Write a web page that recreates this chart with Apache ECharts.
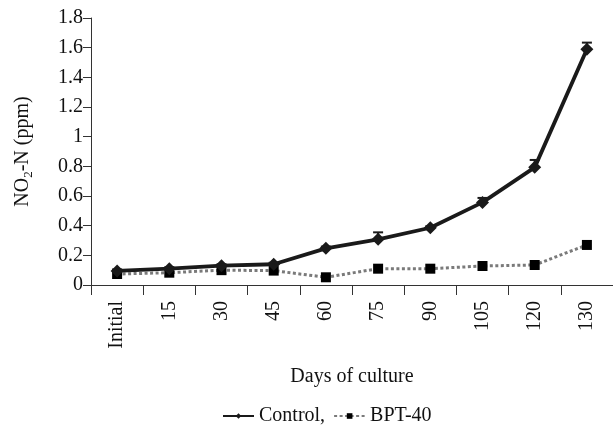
<!DOCTYPE html>
<html>
<head>
<meta charset="utf-8">
<script src="https://cdn.jsdelivr.net/npm/echarts@6/dist/echarts.min.js"></script>
<style>
html,body{margin:0;padding:0;background:#fff;}
#chart{width:613px;height:429px;}
</style>
</head>
<body>
<div id="chart"></div>
<script>
var categories = ['Initial', '15', '30', '45', '60', '75', '90', '105', '120', '130'];
var controlValues = [0.095, 0.11, 0.13, 0.14, 0.247, 0.308, 0.386, 0.557, 0.793, 1.589];
var controlErrors = [0.01, 0.01, 0.01, 0.01, 0.012, 0.047, 0.01, 0.03, 0.05, 0.045];
var bptValues = [0.074, 0.083, 0.10, 0.097, 0.052, 0.11, 0.11, 0.128, 0.135, 0.27];
var yTicks = [0, 0.2, 0.4, 0.6, 0.8, 1, 1.2, 1.4, 1.6, 1.8];

var FONT = '"Liberation Serif", "Times New Roman", serif';
var FS = 20;
var chart = echarts.init(document.getElementById('chart'), null, {renderer: 'canvas'});

var errData = controlValues.map(function (v, i) { return [i, v, v + controlErrors[i]]; });

chart.setOption({
  animation: false,
  backgroundColor: '#fff',
  textStyle: {fontFamily: FONT, color: '#111'},
  grid: {left: 91, right: 0, top: 18, bottom: 144, containLabel: false},
  legend: {
    left: 217, top: 401,
    itemWidth: 31, itemHeight: 7, itemGap: 8,
    textStyle: {fontFamily: FONT, fontSize: FS, color: '#111'},
    formatter: function (n) { return n === 'Control' ? 'Control,' : n; },
    data: ['Control', 'BPT-40']
  },
  xAxis: {
    type: 'category',
    data: categories,
    boundaryGap: true,
    name: 'Days of culture',
    nameLocation: 'middle',
    nameGap: 82,
    nameTextStyle: {fontFamily: FONT, fontSize: FS, color: '#111'},
    axisLine: {lineStyle: {color: '#333', width: 1}},
    axisTick: {show: true, alignWithLabel: false, length: 10, lineStyle: {color: '#333'}},
    axisLabel: {rotate: 90, margin: 16, fontFamily: FONT, fontSize: FS, color: '#111'},
    splitLine: {show: false}
  },
  yAxis: {
    type: 'value',
    min: yTicks[0], max: yTicks[yTicks.length - 1], interval: 0.2,
    name: '{a|NO}{s|2}{a|-N (ppm)}',
    nameLocation: 'middle',
    nameGap: 56,
    nameRotate: 90,
    nameTextStyle: {
      fontFamily: FONT, fontSize: FS, color: '#111',
      rich: {
        a: {fontFamily: FONT, fontSize: FS, color: '#111', lineHeight: 24, verticalAlign: 'middle'},
        s: {fontFamily: FONT, fontSize: 13, color: '#111', lineHeight: 24, verticalAlign: 'bottom', padding: [9, 0, 0, 0]}
      }
    },
    axisLine: {show: true, lineStyle: {color: '#333', width: 1}},
    axisTick: {show: true, inside: false, length: 8, lineStyle: {color: '#333'}},
    axisLabel: {margin: 8, fontFamily: FONT, fontSize: FS, color: '#111'},
    splitLine: {show: false}
  },
  series: [
    {
      name: 'Control',
      type: 'line',
      data: controlValues,
      symbol: 'diamond',
      symbolSize: 13,
      z: 4,
      lineStyle: {color: '#1a1a1a', width: 3.8},
      itemStyle: {color: '#1a1a1a'}
    },
    {
      name: 'BPT-40',
      type: 'line',
      data: bptValues,
      symbol: 'rect',
      symbolSize: 10,
      z: 3,
      lineStyle: {color: '#7a7a7a', width: 3, type: [3, 2.5]},
      itemStyle: {color: '#000'}
    },
    {
      name: 'err',
      type: 'custom',
      z: 5,
      data: errData,
      renderItem: function (params, api) {
        var x = api.value(0);
        var lo = api.coord([x, api.value(1)]);
        var hi = api.coord([x, api.value(2)]);
        var w = 5;
        var st = {stroke: '#1a1a1a', lineWidth: 2};
        return {
          type: 'group',
          children: [
            {type: 'line', shape: {x1: hi[0], y1: hi[1], x2: lo[0], y2: lo[1]}, style: st},
            {type: 'line', shape: {x1: hi[0] - w, y1: hi[1], x2: hi[0] + w, y2: hi[1]}, style: st}
          ]
        };
      }
    }
  ]
});
</script>
</body>
</html>
